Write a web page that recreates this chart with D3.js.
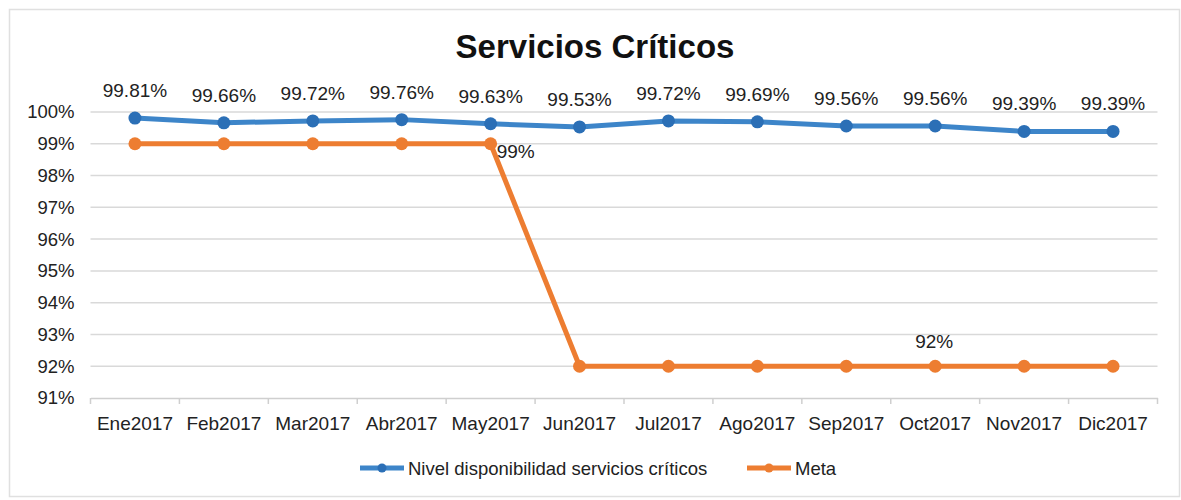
<!DOCTYPE html>
<html>
<head>
<meta charset="utf-8">
<script src="https://cdn.jsdelivr.net/npm/d3@7"></script>
<style>
	html, body { margin: 0; padding: 0; background: #fff; }
	svg { display: block; font-family: "Liberation Sans", Arial, sans-serif; }
</style>
</head>
<body>
<script>
	// DATA //
	var months = [ 'Ene2017', 'Feb2017', 'Mar2017', 'Abr2017', 'May2017', 'Jun2017', 'Jul2017', 'Ago2017', 'Sep2017', 'Oct2017', 'Nov2017', 'Dic2017' ];
	var nivel = [ 99.81, 99.66, 99.72, 99.76, 99.63, 99.53, 99.72, 99.69, 99.56, 99.56, 99.39, 99.39 ];
	var meta = [ 99, 99, 99, 99, 99, 92, 92, 92, 92, 92, 92, 92 ];
	var yTicks = [ 91, 92, 93, 94, 95, 96, 97, 98, 99, 100 ];
	var seriesNames = [ 'Nivel disponibilidad servicios críticos', 'Meta' ];

(function() {
	'use strict';

	var W = 1181, H = 500,
		pLeft = 90.5, pRight = 1157.5,
		pTop = 112, pBottom = 398,
		blue = '#3d85c9', blueDot = '#2b6fb6',
		orange = '#ed7d31';

	var svg = d3.select( 'body' ).append( 'svg' )
		.attr( 'width', W )
		.attr( 'height', H );

	// Outer frame:
	svg.append( 'rect' )
		.attr( 'x', 9.5 ).attr( 'y', 9.5 )
		.attr( 'width', 1170 ).attr( 'height', 487 )
		.attr( 'fill', '#fff' )
		.attr( 'stroke', '#e0e0e0' )
		.attr( 'stroke-width', 1.5 );

	// Title:
	svg.append( 'text' )
		.attr( 'x', 595 ).attr( 'y', 58 )
		.attr( 'text-anchor', 'middle' )
		.attr( 'font-size', 33 )
		.attr( 'font-weight', 'bold' )
		.attr( 'fill', '#111' )
		.text( 'Servicios Críticos' );

	var x = d3.scaleBand().domain( months ).range( [ pLeft, pRight ] );
	var y = d3.scaleLinear().domain( [ 91, 100 ] ).range( [ pBottom, pTop ] );
	var cx = function ( d, i ) { return x( months[ i ] ) + x.bandwidth()/2; };

	// Gridlines:
	svg.append( 'g' )
		.selectAll( 'line' )
		.data( yTicks.slice( 1 ) )
	  .enter().append( 'line' )
		.attr( 'x1', pLeft ).attr( 'x2', pRight )
		.attr( 'y1', function ( d ) { return y( d ); } )
		.attr( 'y2', function ( d ) { return y( d ); } )
		.attr( 'stroke', '#d9d9d9' )
		.attr( 'stroke-width', 1.5 );

	// Y axis labels:
	var yAxis = svg.append( 'g' )
		.attr( 'transform', 'translate(' + ( pLeft - 16 ) + ',0)' )
		.call( d3.axisLeft( y ).tickValues( yTicks ).tickSize( 0 ).tickFormat( function ( d ) { return d + '%'; } ) );
	yAxis.select( '.domain' ).remove();
	yAxis.selectAll( 'text' )
		.attr( 'font-size', 18.5 )
		.attr( 'font-family', '"Liberation Sans", Arial, sans-serif' )
		.attr( 'fill', '#222' )
		.attr( 'x', 0 );

	// X axis:
	var xAxis = svg.append( 'g' )
		.attr( 'transform', 'translate(0,' + pBottom + ')' )
		.call( d3.axisBottom( x ).tickSize( 0 ).tickPadding( 19 ) );
	xAxis.select( '.domain' ).attr( 'stroke', '#cfcfcf' ).attr( 'stroke-width', 1.5 );
	xAxis.selectAll( 'text' )
		.attr( 'font-size', 19 )
		.attr( 'font-family', '"Liberation Sans", Arial, sans-serif' )
		.attr( 'fill', '#222' );
	xAxis.selectAll( 'line.boundary' )
		.data( months.concat( [ null ] ) )
	  .enter().append( 'line' )
		.attr( 'class', 'boundary' )
		.attr( 'x1', function ( d, i ) { return pLeft + i*x.bandwidth(); } )
		.attr( 'x2', function ( d, i ) { return pLeft + i*x.bandwidth(); } )
		.attr( 'y1', 0 ).attr( 'y2', 6 )
		.attr( 'stroke', '#cfcfcf' )
		.attr( 'stroke-width', 1.5 );

	var line = d3.line()
		.x( cx )
		.y( function ( d ) { return y( d ); } );

	// Meta series:
	svg.append( 'path' )
		.datum( meta )
		.attr( 'd', line )
		.attr( 'fill', 'none' )
		.attr( 'stroke', orange )
		.attr( 'stroke-width', 5 );
	svg.append( 'g' ).selectAll( 'circle' )
		.data( meta )
	  .enter().append( 'circle' )
		.attr( 'cx', cx )
		.attr( 'cy', function ( d ) { return y( d ); } )
		.attr( 'r', 6.5 )
		.attr( 'fill', orange );

	// Nivel series:
	svg.append( 'path' )
		.datum( nivel )
		.attr( 'd', line )
		.attr( 'fill', 'none' )
		.attr( 'stroke', blue )
		.attr( 'stroke-width', 5 );
	svg.append( 'g' ).selectAll( 'circle' )
		.data( nivel )
	  .enter().append( 'circle' )
		.attr( 'cx', cx )
		.attr( 'cy', function ( d ) { return y( d ); } )
		.attr( 'r', 6.5 )
		.attr( 'fill', blueDot );

	// Nivel labels:
	svg.append( 'g' ).selectAll( 'text' )
		.data( nivel )
	  .enter().append( 'text' )
		.attr( 'x', cx )
		.attr( 'y', function ( d ) { return y( d ) - 21; } )
		.attr( 'text-anchor', 'middle' )
		.attr( 'font-size', 19 )
		.attr( 'fill', '#222' )
		.text( function ( d ) { return d.toFixed( 2 ) + '%'; } );

	// Meta labels (only two shown):
	svg.append( 'text' )
		.attr( 'x', cx( null, 4 ) + 6 )
		.attr( 'y', y( meta[ 4 ] ) + 14 )
		.attr( 'font-size', 19 )
		.attr( 'fill', '#222' )
		.text( meta[ 4 ] + '%' );
	svg.append( 'text' )
		.attr( 'x', cx( null, 9 ) - 1 )
		.attr( 'y', y( meta[ 9 ] ) - 18 )
		.attr( 'text-anchor', 'middle' )
		.attr( 'font-size', 19 )
		.attr( 'fill', '#222' )
		.text( meta[ 9 ] + '%' );

	// Legend:
	var legend = [
		{ name: seriesNames[ 0 ], color: blue, dot: blueDot, x: 360 },
		{ name: seriesNames[ 1 ], color: orange, dot: orange, x: 747 }
	];
	var lg = svg.append( 'g' ).selectAll( 'g' )
		.data( legend )
	  .enter().append( 'g' )
		.attr( 'transform', function ( d ) { return 'translate(' + d.x + ',468)'; } );
	lg.append( 'line' )
		.attr( 'x1', 0 ).attr( 'x2', 44 )
		.attr( 'y1', 0 ).attr( 'y2', 0 )
		.attr( 'stroke', function ( d ) { return d.color; } )
		.attr( 'stroke-width', 5 );
	lg.append( 'circle' )
		.attr( 'cx', 22 ).attr( 'cy', 0 ).attr( 'r', 4.5 )
		.attr( 'fill', function ( d ) { return d.dot; } );
	lg.append( 'text' )
		.attr( 'x', 48 ).attr( 'y', 6.5 )
		.attr( 'font-size', 18.5 )
		.attr( 'fill', '#222' )
		.text( function ( d ) { return d.name; } );
})();
</script>
</body>
</html>
